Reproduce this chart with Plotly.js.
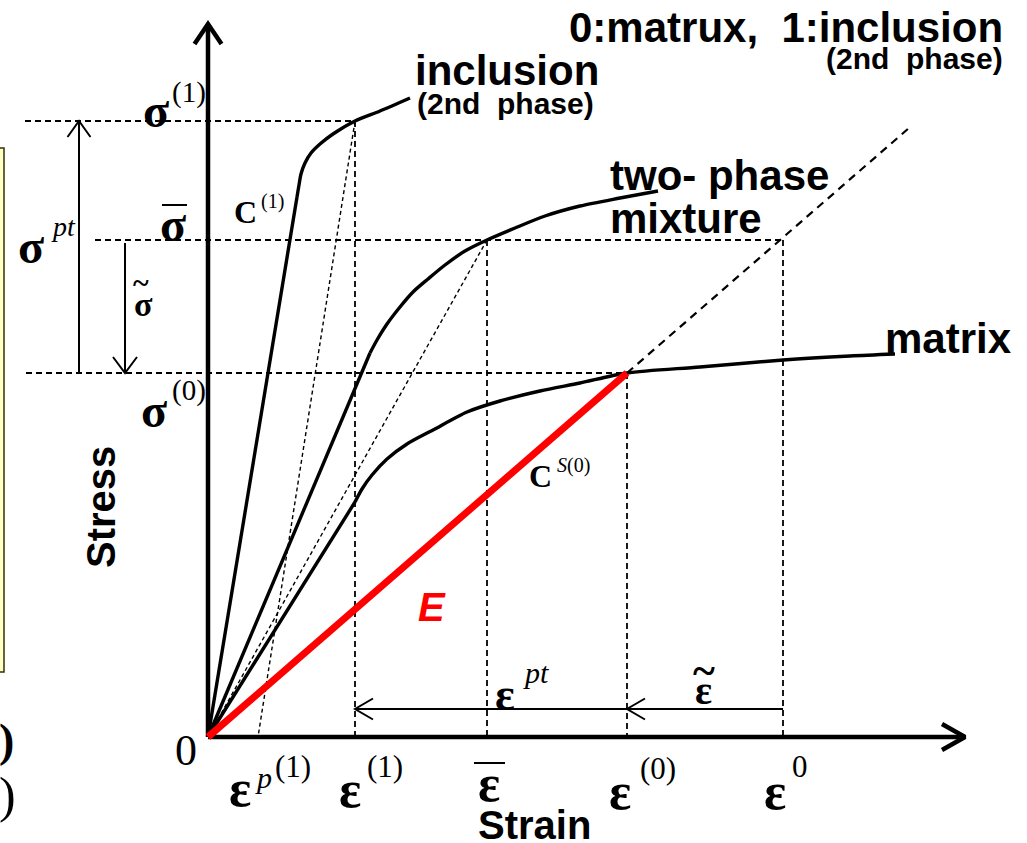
<!DOCTYPE html>
<html>
<head>
<meta charset="utf-8">
<script src="https://cdn.plot.ly/plotly-3.0.1.min.js"></script>
<style>
  html, body { margin: 0; padding: 0; background: #ffffff; }
  #chart { width: 1027px; height: 843px; }
</style>
</head>
<body>
<div id="chart"></div>
<script>
// ---- Characteristic strain levels (schematic units) ----
const epsPlastic1 = 0.50;   // ε^p(1): residual strain of the inclusion
const epsIncl = 1.47;       // ε(1)
const epsMix = 2.79;        // ε̄
const epsMatrix = 4.19;     // ε(0)
const epsApplied = 5.75;    // ε^0

// ---- Characteristic stress levels ----
const sigIncl = 6.16;       // σ(1)
const sigMix = 4.97;        // σ̄
const sigMatrix = 3.64;     // σ(0)

// ---- Stress-strain curves: elastic branch + hardening branch ----
const inclElasticStrain = [0, 0.89];
const inclElasticStress = [0, 5.40];
const inclPlasticStrain = [0.89, 0.91, 0.93, 0.97, 1.03, 1.12, 1.25, 1.47, 1.72, 2.02];
const inclPlasticStress = [5.40, 5.52, 5.63, 5.74, 5.84, 5.93, 6.03, 6.16, 6.26, 6.39];

const mixElasticStrain = [0, 1.62];
const mixElasticStress = [0, 3.84];
const mixPlasticStrain = [1.62, 1.69, 1.79, 1.92, 2.05, 2.20, 2.37, 2.57, 2.79, 3.07, 3.37, 3.72, 4.12, 4.50];
const mixPlasticStress = [3.84, 3.97, 4.13, 4.30, 4.45, 4.58, 4.72, 4.86, 4.97, 5.09, 5.21, 5.31, 5.39, 5.46];

const matElasticStrain = [0, 1.47];
const matElasticStress = [0, 2.35];
const matPlasticStrain = [1.47, 1.54, 1.64, 1.79, 1.99, 2.25, 2.59, 2.92, 3.32, 3.72, 4.19, 4.92, 5.75, 6.42, 6.87];
const matPlasticStress = [2.35, 2.48, 2.62, 2.78, 2.93, 3.07, 3.25, 3.36, 3.46, 3.54, 3.64, 3.70, 3.77, 3.81, 3.83];

// secant modulus of the matrix, E = σ(0)/ε(0), and how far its dashed extension runs
const secantE = sigMatrix / epsMatrix;
const secantExtensionEnd = 7.02;

// axis extents and dimension-arrow offsets
const strainAxisEnd = 7.57;
const stressAxisEnd = 7.13;
const sigPtArrowX = -1.29;
const sigTildeArrowX = -0.83;
const epsArrowY = 0.28;
const sigInclLineStart = -1.83;
const sigMixLineStart = -1.13;
const sigMatLineStart = -1.82;

const serif = 'Liberation Serif, "Times New Roman", serif';
const sans = 'Liberation Sans, Arial, sans-serif';

const traces = [];
function line(xs, ys, opt) {
  opt = opt || {};
  traces.push({
    type: 'scatter', mode: 'lines', x: xs, y: ys,
    hoverinfo: 'skip', showlegend: false,
    line: {
      color: opt.color || '#000000', width: opt.width || 2,
      dash: opt.dash || 'solid', shape: opt.shape || 'linear',
      smoothing: opt.smoothing || 0
    }
  });
}
// open "V" arrow head; (dx, dy) points from the tip back along the shaft
function head(tx, ty, dx, dy, len, half, width) {
  const nx = -dy, ny = dx;
  line([tx + dx * len + nx * half, tx, tx + dx * len - nx * half],
       [ty + dy * len + ny * half, ty, ty + dy * len - ny * half],
       {width: width});
}

const refDash = '6px,4px';
const thinDot = '4px,3px';

// reference levels
line([sigInclLineStart, epsIncl], [sigIncl, sigIncl], {dash: refDash, width: 1.8});
line([sigMixLineStart, epsApplied], [sigMix, sigMix], {dash: refDash, width: 1.8});
line([sigMatLineStart, epsMatrix], [sigMatrix, sigMatrix], {dash: refDash, width: 1.8});
line([epsIncl, epsIncl], [sigIncl, 0], {dash: refDash, width: 1.8});
line([epsMix, epsMix], [sigMix, 0], {dash: refDash, width: 1.8});
line([epsMatrix, epsMatrix], [sigMatrix, 0], {dash: refDash, width: 1.8});
line([epsApplied, epsApplied], [sigMix, 0], {dash: refDash, width: 1.8});

// unloading line of the inclusion and secant of the mixture
line([epsIncl, epsPlastic1], [sigIncl, 0], {dash: thinDot, width: 1.4});
line([epsMix, 0], [sigMix, 0], {dash: thinDot, width: 1.4});

// dashed continuation of the matrix secant
line([epsMatrix, secantExtensionEnd], [secantE * epsMatrix, secantE * secantExtensionEnd],
     {dash: '8px,6px', width: 2.2});

// stress-strain curves
const curveW = 3.4;
line(inclElasticStrain, inclElasticStress, {width: curveW});
line(inclPlasticStrain, inclPlasticStress, {width: curveW, shape: 'spline', smoothing: 0.8});
line(mixElasticStrain, mixElasticStress, {width: curveW});
line(mixPlasticStrain, mixPlasticStress, {width: curveW, shape: 'spline', smoothing: 0.8});
line(matElasticStrain, matElasticStress, {width: curveW});
line(matPlasticStrain, matPlasticStress, {width: curveW, shape: 'spline', smoothing: 0.8});

// dimension arrows
line([sigPtArrowX, sigPtArrowX], [sigMatrix, sigIncl], {width: 2});
head(sigPtArrowX, sigIncl, 0, -1, 0.16, 0.115, 2);
line([sigTildeArrowX, sigTildeArrowX], [sigMix - 0.03, sigMatrix], {width: 2});
head(sigTildeArrowX, sigMatrix, 0, 1, 0.16, 0.12, 2);
line([epsMatrix, epsIncl], [epsArrowY, epsArrowY], {width: 2});
head(epsIncl, epsArrowY, 1, 0, 0.18, 0.105, 2);
line([epsApplied, epsMatrix], [epsArrowY, epsArrowY], {width: 2});
head(epsMatrix, epsArrowY, 1, 0, 0.18, 0.105, 2);

// overbars of σ̄ and ε̄
line([-0.46, -0.21], [5.32, 5.32], {width: 2});
line([epsMix - 0.13, epsMix + 0.18], [-0.26, -0.26], {width: 2});

// axes
line([0, strainAxisEnd], [0, 0], {width: 4.5});
line([0, 0], [0, stressAxisEnd], {width: 4.5});
head(strainAxisEnd, 0, -1, 0, 0.23, 0.13, 4.5);
head(0, stressAxisEnd, 0, -1, 0.20, 0.135, 4.5);

// matrix secant modulus E
line([0, epsMatrix], [0, secantE * epsMatrix], {color: '#ff0000', width: 7});

// ---- text ----
const annotations = [];
function txt(text, x, y, size, opt) {
  opt = opt || {};
  annotations.push({
    text: text, x: x, y: y, xref: opt.xref || 'x', yref: opt.yref || 'y',
    showarrow: false, xanchor: opt.xanchor || 'center', yanchor: opt.yanchor || 'middle',
    textangle: opt.angle || 0,
    font: {family: opt.family || serif, size: size, color: opt.color || '#000000'}
  });
}
const B = s => '<b>' + s + '</b>';
const I = s => '<i>' + s + '</i>';
const SIG = 48, EPS = 52, SUP = 29;

// origin
txt('0', -0.22, -0.13, 44);

// stress-axis symbols
txt(B('σ'), -0.52, sigIncl + 0.11, SIG);
txt('(1)', -0.19, sigIncl + 0.29, SUP);
txt(B('σ'), -0.35, sigMix + 0.16, SIG);
txt(B('σ'), -0.54, sigMatrix - 0.37, SIG);
txt('(0)', -0.19, sigMatrix - 0.17, SUP);
txt(B('σ'), -1.77, sigMix - 0.06, SIG);
txt(I('pt'), -1.45, sigMix + 0.14, 28);
txt(B('σ'), -0.645, 4.33, 34);
txt(B('~'), -0.67, 4.55, 30);

// strain-axis symbols
txt(B('ε'), epsPlastic1 - 0.18, -0.51, EPS);
txt(I('p'), epsPlastic1 + 0.05, -0.40, 30);
txt('(1)', epsPlastic1 + 0.35, -0.29, 31);
txt(B('ε'), epsIncl - 0.05, -0.52, EPS);
txt('(1)', epsIncl + 0.30, -0.29, 31);
txt(B('ε'), epsMix + 0.02, -0.46, EPS);
txt(B('ε'), epsMatrix - 0.07, -0.54, EPS);
txt('(0)', epsMatrix + 0.31, -0.31, 31);
txt(B('ε'), epsApplied - 0.08, -0.54, EPS);
txt('0', epsApplied + 0.17, -0.29, 31);

// dimension-arrow labels
txt(B('ε'), epsMix + 0.18, epsArrowY + 0.15, 46);
txt(I('pt'), epsMix + 0.49, epsArrowY + 0.37, 30);
txt(B('ε'), (epsMatrix + epsApplied) / 2 - 0.02, epsArrowY + 0.19, 40);
txt(B('~'), (epsMatrix + epsApplied) / 2 - 0.01, epsArrowY + 0.38, 42);

// moduli
txt(B('C'), 0.37, 5.25, 32);
txt('(1)', 0.64, 5.36, 20);
txt(B('C'), 3.32, 2.61, 32);
txt(I('S') + '(0)', 3.65, 2.72, 20);
txt(B(I('E')), 2.24, 1.30, 40, {family: sans, color: '#ff0000'});

// curve names
txt(B('inclusion'), 2.99, 6.67, 42, {family: sans});
txt(B('(2nd\u00a0 phase)'), 2.97, 6.34, 30, {family: sans});
txt(B('two- phase'), 4.00, 5.62, 42, {family: sans, xanchor: 'left'});
txt(B('mixture'), 4.00, 5.19, 42, {family: sans, xanchor: 'left'});
txt(B('matrix'), 6.75, 3.99, 42, {family: sans, xanchor: 'left'});
txt(B('0:matrux,\u00a0 1:inclusion'), 7.97, 7.10, 42, {family: sans, xanchor: 'right'});
txt(B('(2nd\u00a0 phase)'), 7.97, 6.79, 30, {family: sans, xanchor: 'right'});

// axis titles
txt(B('Strain'), 3.26, -0.88, 40, {family: sans});
txt(B('Stress'), -1.07, 2.30, 40, {family: sans, angle: -90});

// clipped glyphs at the left border
txt(B(')'), 16 / 1027, 1 - 740 / 843, 46, {xref: 'paper', yref: 'paper', xanchor: 'right'});
txt(')', 18 / 1027, 1 - 795 / 843, 50, {xref: 'paper', yref: 'paper', xanchor: 'right'});

const layout = {
  width: 1027, height: 843,
  margin: {l: 0, r: 0, t: 0, b: 0, pad: 0},
  paper_bgcolor: '#ffffff', plot_bgcolor: '#ffffff',
  showlegend: false,
  xaxis: {range: [-2.08, 8.19], visible: false, fixedrange: true},
  yaxis: {range: [-1.06, 7.37], visible: false, fixedrange: true},
  annotations: annotations,
  shapes: [{
    type: 'rect', xref: 'paper', yref: 'paper',
    x0: -0.01, x1: 4 / 1027, y0: 1 - 672 / 843, y1: 1 - 148 / 843,
    fillcolor: '#ffffc8', line: {color: '#333300', width: 1.5}, layer: 'below'
  }]
};

Plotly.newPlot('chart', traces, layout, {staticPlot: true, displayModeBar: false});
</script>
</body>
</html>
